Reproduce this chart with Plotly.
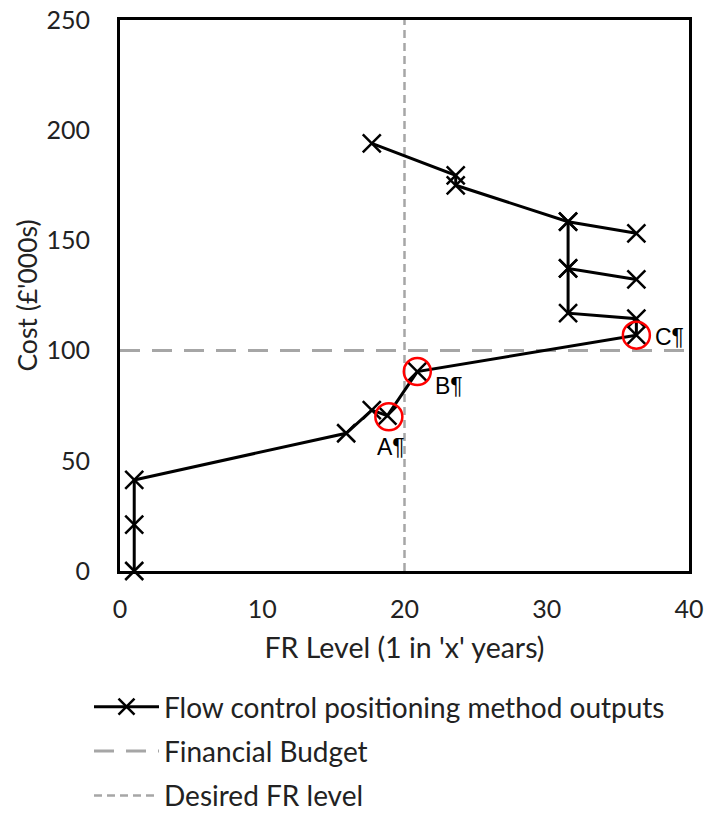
import plotly.graph_objects as go

# Flow control positioning method outputs (path in plotting order)
fr_level = [1.0, 1.0, 1.0, 15.9, 17.7, 18.8, 20.9, 36.3, 36.3, 31.5, 31.5, 36.3, 31.5,
            31.5, 36.3, 31.5, 23.6, 23.6, 17.7]
cost = [0.0, 21.0, 41.3, 62.5, 73.0, 70.5, 90.5, 107.0, 114.5, 117.0, 137.3, 132.3, 137.3,
        158.5, 153.2, 158.5, 175.0, 179.5, 194.0]

# Highlighted solutions
hl_labels = ["A¶", "B¶", "C¶"]
hl_x = [18.9, 20.9, 36.3]
hl_y = [70.0, 90.5, 107.0]

budget_x = [0, 40]
budget_y = [100, 100]

desired_x = [20, 20]
desired_y = [0, 250]

x_ticks = [0, 10, 20, 30, 40]
y_ticks = [0, 50, 100, 150, 200, 250]

# label offsets in pixels (style)
label_shift = [(2, -30), (32, -14), (33, -2)]

FONT = "Lato"
TXT = "#222222"
GREY = "#A6A6A6"
W, H = 708, 817

fig = go.Figure()

fig.add_trace(go.Scatter(
    x=budget_x, y=budget_y, mode="lines", name="Financial Budget",
    line=dict(color=GREY, width=3, dash="20px,12px"), legendgroup="b", legendrank=2,
    cliponaxis=False))
fig.add_trace(go.Scatter(
    x=desired_x, y=desired_y, mode="lines", name="Desired FR level",
    line=dict(color=GREY, width=2.5, dash="8px,5px"), legendgroup="c", legendrank=3,
    cliponaxis=False))
fig.add_trace(go.Scatter(
    x=fr_level, y=cost, mode="lines+markers", name="Flow control positioning method outputs",
    line=dict(color="black", width=3),
    marker=dict(symbol="x-thin", size=18, color="black", line=dict(color="black", width=2.5)),
    legendgroup="a", legendrank=1, cliponaxis=False))
fig.add_trace(go.Scatter(
    x=hl_x, y=hl_y, mode="markers",
    marker=dict(symbol="circle-open", size=27, color="red", line=dict(color="red", width=2.5)),
    showlegend=False, cliponaxis=False))

for lab, xx, yy, (dx, dy) in zip(hl_labels, hl_x, hl_y, label_shift):
    fig.add_annotation(x=xx, y=yy, xref="x", yref="y", text=lab, showarrow=False,
                       xshift=dx, yshift=dy, xanchor="center", yanchor="middle",
                       font=dict(family="Liberation Sans", size=23, color="black"))

fig.update_layout(
    width=W, height=H,
    margin=dict(l=0, r=0, t=0, b=0, autoexpand=False),
    paper_bgcolor="white", plot_bgcolor="white",
    font=dict(family=FONT, size=25, color=TXT),
    showlegend=True,
    legend=dict(
        x=89 / W, y=1 - 682 / H, xanchor="left", yanchor="top",
        traceorder="grouped", tracegroupgap=5, maxheight=400, borderwidth=0,
        itemwidth=65, font=dict(family=FONT, size=28, color=TXT),
        bgcolor="rgba(0,0,0,0)"),
    xaxis=dict(
        domain=[120 / W, 689 / W], automargin=False,
        range=[0, 40], tickvals=x_ticks, showgrid=False, zeroline=False,
        showline=True, mirror=True, linecolor="black", linewidth=3,
        ticks="", ticklabelstandoff=14,
        title=dict(text="FR Level (1 in 'x' years)", standoff=17,
                   font=dict(family=FONT, size=28.5, color=TXT)),
        tickfont=dict(family=FONT, size=25, color=TXT)),
    yaxis=dict(
        domain=[1 - 571 / H, 1 - 20 / H], automargin=False,
        range=[0, 250], tickvals=y_ticks, showgrid=False, zeroline=False,
        showline=True, mirror=True, linecolor="black", linewidth=3,
        ticks="", ticklabelstandoff=22,
        title=dict(text="Cost (£'000s)", standoff=2,
                   font=dict(family=FONT, size=26.5, color=TXT)),
        tickfont=dict(family=FONT, size=25, color=TXT)),
)

fig.write_html("out.html")
